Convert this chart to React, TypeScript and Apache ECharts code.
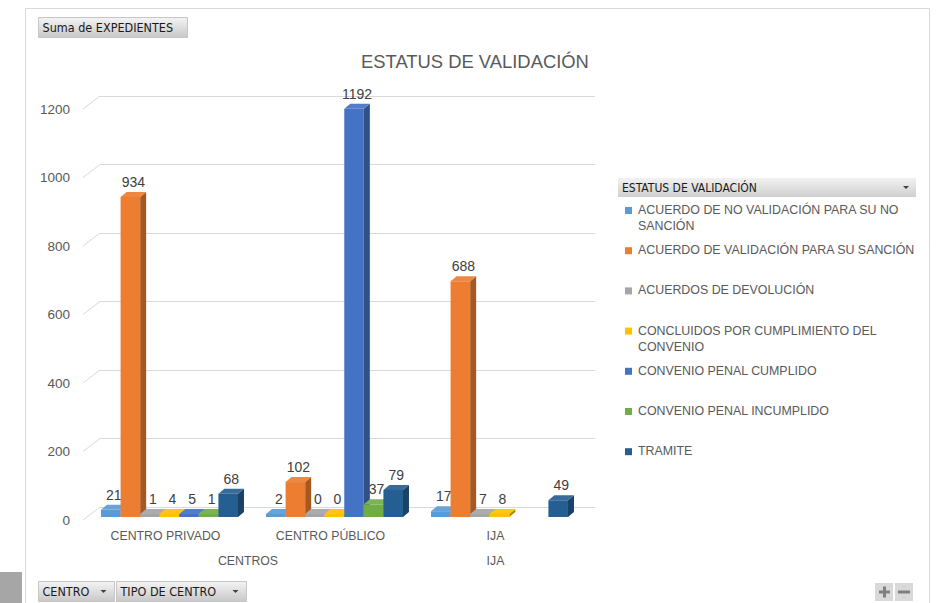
import React, { useEffect, useRef } from "react";
import * as echarts from "echarts";

const categories = ["CENTRO PRIVADO", "CENTRO PÚBLICO", "IJA"];
const groupLabels = [
  { text: "CENTROS", span: [0, 1] },
  { text: "IJA", span: [2, 2] },
];
const seriesNames = [
  "ACUERDO DE NO VALIDACIÓN PARA SU NO SANCIÓN",
  "ACUERDO DE VALIDACIÓN PARA SU SANCIÓN",
  "ACUERDOS DE DEVOLUCIÓN",
  "CONCLUIDOS POR CUMPLIMIENTO DEL CONVENIO",
  "CONVENIO PENAL CUMPLIDO",
  "CONVENIO PENAL INCUMPLIDO",
  "TRAMITE",
];
const legendLines = [
  ["ACUERDO DE NO VALIDACIÓN PARA SU NO", "SANCIÓN"],
  ["ACUERDO DE VALIDACIÓN PARA SU SANCIÓN"],
  ["ACUERDOS DE DEVOLUCIÓN"],
  ["CONCLUIDOS POR CUMPLIMIENTO DEL", "CONVENIO"],
  ["CONVENIO PENAL CUMPLIDO"],
  ["CONVENIO PENAL INCUMPLIDO"],
  ["TRAMITE"],
];
const colors = ["#5B9BD5", "#ED7D31", "#A5A5A5", "#FFC000", "#4472C4", "#70AD47", "#255E91"];

const acuerdoNoValidacion = [21, 2, 17];
const acuerdoValidacion = [934, 102, 688];
const acuerdosDevolucion = [1, 0, 7];
const concluidos = [4, 0, 8];
const convenioCumplido = [5, 1192, null];
const convenioIncumplido = [1, 37, null];
const tramite = [68, 79, 49];
const seriesValues = [
  acuerdoNoValidacion,
  acuerdoValidacion,
  acuerdosDevolucion,
  concluidos,
  convenioCumplido,
  convenioIncumplido,
  tramite,
];
const yTicks = [0, 200, 400, 600, 800, 1000, 1200];

const FONT = "Liberation Sans, Arial, sans-serif";
const COND = `"DejaVu Sans Condensed", ${FONT}`;

function shade(hex: string, f: number) {
  const n = parseInt(hex.slice(1), 16);
  const ch = [(n >> 16) & 255, (n >> 8) & 255, n & 255].map((c) =>
    Math.max(0, Math.min(255, Math.round(f < 1 ? c * f : c + (255 - c) * (f - 1))))
  );
  return `rgb(${ch[0]},${ch[1]},${ch[2]})`;
}

export default function App() {
  const ref = useRef<HTMLDivElement>(null);
  useEffect(() => {
    document.body.style.margin = "0";
    const chart = echarts.init(ref.current!, null, { renderer: "svg" });
    const nSeries = seriesNames.length;
    const DX = 6;
    const DY = 5;
    const FX = -10;
    const FY = 10;
    const WX = -17;
    const WY = 13;

    const makeRender = (si: number) => (params: any, api: any) => {
      const cat = api.value(0);
      const v = api.value(1);
      const base = api.coord([cat, 0]);
      const top = api.coord([cat, v]);
      const catW = api.size([1, 0])[0];
      const slot = (catW * 0.83) / nSeries;
      const cx = base[0] + FX + (si - (nSeries - 1) / 2) * slot - DX / 2;
      const fw = slot;
      const x0 = cx - fw / 2;
      const x1 = cx + fw / 2;
      const yb = base[1] + FY;
      const yt = Math.min(top[1] + FY, yb - 3);
      const c = colors[si];
      const side = shade(c, 0.7);
      const topC = shade(c, 1.08);
      return {
        type: "group",
        children: [
          {
            type: "polygon",
            shape: { points: [[x1, yb], [x1 + DX, yb - DY], [x1 + DX, yt - DY], [x1, yt]] },
            style: { fill: side },
          },
          {
            type: "rect",
            shape: { x: x0, y: yt, width: fw, height: yb - yt },
            style: { fill: c },
          },
          {
            type: "polygon",
            shape: { points: [[x0, yt], [x1, yt], [x1 + DX, yt - DY], [x0 + DX, yt - DY]] },
            style: { fill: topC },
          },
          {
            type: "text",
            style: {
              x: cx + DX / 2,
              y: yt - DY - 3,
              text: String(v),
              textAlign: "center",
              textVerticalAlign: "bottom",
              fill: "#404040",
              font: `14px ${FONT}`,
            },
          },
        ],
      };
    };

    const barSeries = seriesNames.map((name, si) => ({
      type: "custom",
      name,
      xAxisIndex: 0,
      yAxisIndex: 0,
      renderItem: makeRender(si),
      data: seriesValues[si]
        .map((v, ci) => (v == null ? null : [ci, v]))
        .filter((d) => d != null),
      encode: { x: 0, y: 1 },
      z: 3,
    }));

    const wallSeries = {
      type: "custom",
      xAxisIndex: 0,
      yAxisIndex: 0,
      silent: true,
      z: 1,
      renderItem: (params: any, api: any) => {
        const y = api.coord([0, api.value(1)])[1];
        const x = params.coordSys.x;
        return {
          type: "line",
          shape: { x1: x + WX, y1: y + WY, x2: x, y2: y },
          style: { stroke: "#d9d9d9", lineWidth: 1 },
        };
      },
      data: yTicks.map((t) => [0, t]),
      encode: { x: 0, y: 1 },
    };

    const backLeft = 100;
    const backRight = 595;
    const backTop = 96;
    const backBottom = 507;
    const frontLeft = backLeft + WX;
    const frontRight = backRight + WX;
    const frontW = (frontRight - frontLeft) / categories.length;

    const legendGraphics: any[] = [];
    const legendTop = 204;
    seriesNames.forEach((_, i) => {
      const y = legendTop + i * 40.2;
      legendGraphics.push({
        type: "rect",
        shape: { x: 625, y: y + 3, width: 7, height: 7 },
        style: { fill: colors[i] },
      });
      legendLines[i].forEach((line, li) => {
        legendGraphics.push({
          type: "text",
          x: 638,
          y: y + li * 16,
          style: { text: line, fill: "#595959", font: `12.4px ${FONT}` },
        });
      });
    });

    const btnFill = () =>
      new echarts.graphic.LinearGradient(0, 0, 0, 1, [
        { offset: 0, color: "#f4f4f4" },
        { offset: 1, color: "#c8c8c8" },
      ]);
    const button = (x: number, y: number, w: number, h: number, text: string, arrow: boolean) => {
      const els: any[] = [
        {
          type: "rect",
          shape: { x, y, width: w, height: h },
          style: { fill: btnFill(), stroke: "#c6c6c6", lineWidth: 1 },
        },
        {
          type: "text",
          x: x + 4,
          y: y + h / 2,
          style: { text, fill: "#1a1a1a", font: `12.5px ${COND}`, textVerticalAlign: "middle" },
        },
      ];
      if (arrow) {
        els.push({
          type: "polygon",
          shape: { points: [[x + w - 14, y + h / 2 - 1.5], [x + w - 8, y + h / 2 - 1.5], [x + w - 11, y + h / 2 + 1.5]] },
          style: { fill: "#404040" },
        });
      }
      return els;
    };

    const groupGraphics: any[] = groupLabels.map((g) => ({
      type: "text",
      x: frontLeft + ((g.span[0] + g.span[1] + 1) / 2) * frontW,
      y: 561,
      style: { text: g.text, fill: "#595959", font: `12.3px ${FONT}`, textAlign: "center", textVerticalAlign: "middle" },
    }));

    chart.setOption({
      animation: false,
      backgroundColor: "#ffffff",
      title: {
        text: "ESTATUS DE VALIDACIÓN",
        left: 361,
        top: 52,
        padding: 0,
        textStyle: { color: "#595959", fontSize: 18.4, fontWeight: "normal", fontFamily: FONT },
      },
      grid: [
        { left: backLeft, right: 936 - backRight, top: backTop, bottom: 603 - backBottom },
        { left: frontLeft, right: 936 - frontRight, top: backTop + WY, bottom: 603 - backBottom - WY },
      ],
      xAxis: [
        {
          type: "category",
          gridIndex: 0,
          data: categories,
          axisLine: { show: false },
          axisTick: { show: false },
          axisLabel: { show: false },
        },
        {
          type: "category",
          gridIndex: 1,
          data: categories,
          axisLine: { show: false },
          axisTick: { show: false },
          axisLabel: { color: "#595959", fontSize: 12.3, fontFamily: FONT, margin: 10 },
        },
      ],
      yAxis: [
        {
          type: "value",
          gridIndex: 0,
          min: 0,
          max: 1200,
          interval: 200,
          axisLine: { show: false },
          axisTick: { show: false },
          axisLabel: { show: false },
          splitLine: { lineStyle: { color: "#d9d9d9" } },
        },
        {
          type: "value",
          gridIndex: 1,
          min: 0,
          max: 1200,
          interval: 200,
          axisLine: { show: false },
          axisTick: { show: false },
          splitLine: { show: false },
          axisLabel: {
            color: "#595959",
            fontSize: 13.5,
            fontFamily: FONT,
            margin: 13,
            formatter: (v: number) => String(v),
          },
        },
      ],
      series: [wallSeries, ...barSeries],
      graphic: [
        {
          type: "rect",
          shape: { x: 25.5, y: 8.5, width: 904, height: 600 },
          style: { fill: "none", stroke: "#d9d9d9", lineWidth: 1 },
          z: -1,
        },
        {
          type: "rect",
          shape: { x: 0, y: 572, width: 22, height: 31 },
          style: { fill: "#a6a6a6" },
        },
        ...button(38.5, 17.5, 149, 20, "Suma de EXPEDIENTES", false),
        ...button(38.5, 581.5, 76, 20, "CENTRO", true),
        ...button(116.5, 581.5, 130, 20, "TIPO DE CENTRO", true),
        {
          type: "rect",
          shape: { x: 618, y: 178, width: 298, height: 19 },
          style: {
            fill: new echarts.graphic.LinearGradient(0, 0, 0, 1, [
              { offset: 0, color: "#f2f2f2" },
              { offset: 1, color: "#cfcfcf" },
            ]),
          },
        },
        {
          type: "text",
          x: 622,
          y: 187.5,
          style: { text: "ESTATUS DE VALIDACIÓN", fill: "#1a1a1a", font: `12px ${COND}`, textVerticalAlign: "middle" },
        },
        {
          type: "polygon",
          shape: { points: [[903, 186], [909, 186], [906, 189]] },
          style: { fill: "#404040" },
        },
        ...legendGraphics,
        ...groupGraphics,
        {
          type: "rect",
          shape: { x: 875, y: 583, width: 18, height: 18 },
          style: { fill: "#d9d9d9" },
        },
        {
          type: "rect",
          shape: { x: 895, y: 583, width: 18, height: 18 },
          style: { fill: "#d9d9d9" },
        },
        {
          type: "rect",
          shape: { x: 879, y: 590.5, width: 11, height: 3 },
          style: { fill: "#808080" },
        },
        {
          type: "rect",
          shape: { x: 883, y: 586.5, width: 3, height: 11 },
          style: { fill: "#808080" },
        },
        {
          type: "rect",
          shape: { x: 898, y: 590.5, width: 12, height: 3 },
          style: { fill: "#808080" },
        },
      ],
    });
    return () => chart.dispose();
  }, []);
  return <div ref={ref} style={{ position: "absolute", left: 0, top: 0, width: 936, height: 603 }} />;
}
